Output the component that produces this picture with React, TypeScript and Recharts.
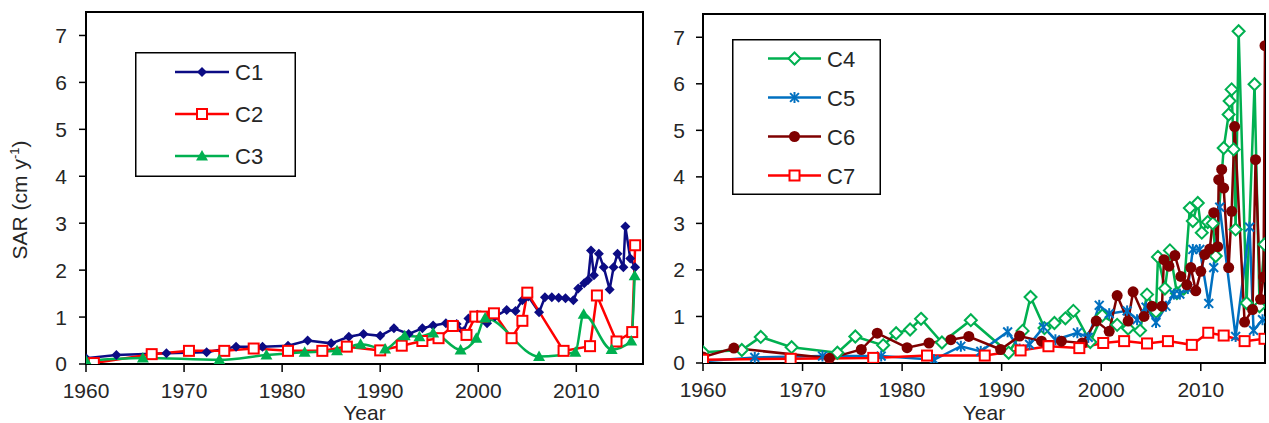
import React from 'react';
import { LineChart, Line, XAxis, YAxis, ReferenceArea } from 'recharts';

// axis ticks
const yearTicks = [1960, 1970, 1980, 1990, 2000, 2010];
const sarTicks = [0, 1, 2, 3, 4, 5, 6, 7];

// left panel
const c1Years = [1960, 1963.1, 1968.2, 1972.3, 1975.3, 1978, 1980.6, 1982.6, 1985, 1986.8, 1988.3, 1990, 1991.4, 1992.9, 1994.3, 1995.4, 1996.7, 1997.8, 1998.5, 1999, 1999.9, 2000.9, 2001.7, 2002.9, 2003.8, 2004.5, 2005.1, 2006.2, 2006.8, 2007.5, 2008.2, 2008.9, 2009.7, 2010.2, 2010.8, 2011.2, 2011.5, 2011.8, 2012.3, 2012.8, 2013.4, 2013.8, 2014.2, 2014.8, 2015, 2015.5, 2016];
const c1Values = [0.12, 0.19, 0.23, 0.25, 0.37, 0.37, 0.39, 0.5, 0.44, 0.58, 0.64, 0.6, 0.76, 0.64, 0.76, 0.82, 0.87, 0.85, 0.7, 0.97, 1.05, 0.87, 1.01, 1.15, 1.13, 1.36, 1.44, 1.1, 1.42, 1.42, 1.41, 1.4, 1.36, 1.61, 1.72, 1.79, 2.42, 1.89, 2.35, 2.06, 1.59, 2.06, 2.35, 2.06, 2.93, 2.25, 2.06];

const c2Years = [1960.8, 1966.7, 1970.5, 1974.1, 1977.1, 1980.6, 1984.1, 1986.6, 1990, 1992.2, 1994.3, 1995.95, 1997.4, 1998.8, 1999.7, 2000.4, 2001.6, 2003.4, 2004.5, 2005, 2008.7, 2011.4, 2012.1, 2014.1, 2015.7, 2016];
const c2Values = [0.02, 0.21, 0.28, 0.28, 0.33, 0.28, 0.28, 0.37, 0.29, 0.39, 0.49, 0.55, 0.81, 0.62, 1.01, 1.01, 1.08, 0.55, 0.92, 1.52, 0.28, 0.38, 1.46, 0.48, 0.68, 2.53];

const c3Years = [1960, 1965.8, 1973.6, 1978.4, 1982.3, 1985.6, 1988, 1990.5, 1992.5, 1994, 1995.4, 1998.2, 1999.8, 2000.7, 2006.2, 2009.9, 2010.75, 2013.6, 2015.6, 2015.95];
const c3Values = [0.07, 0.13, 0.09, 0.19, 0.25, 0.28, 0.42, 0.32, 0.6, 0.58, 0.66, 0.3, 0.55, 0.98, 0.16, 0.25, 1.06, 0.31, 0.49, 1.88];

// right panel
const c4Years = [1960, 1963.9, 1965.8, 1968.9, 1973.5, 1975.3, 1978.1, 1979.4, 1980.8, 1981.9, 1984, 1986.9, 1990.7, 1992.1, 1992.9, 1994.3, 1995.3, 1996.4, 1997.2, 1998.9, 2000.1, 2001.6, 2002.7, 2003.9, 2004.6, 2005.5, 2005.7, 2006.4, 2006.9, 2007.6, 2008.3, 2008.9, 2009.2, 2009.7, 2010.1, 2010.7, 2011.2, 2011.5, 2012.3, 2012.8, 2012.9, 2013.1, 2013.3, 2013.5, 2013.8, 2014.6, 2015.4, 2015.9, 2016.4];
const c4Values = [0.23, 0.28, 0.56, 0.34, 0.22, 0.57, 0.38, 0.64, 0.72, 0.95, 0.44, 0.92, 0.22, 0.69, 1.42, 0.75, 0.86, 0.96, 1.12, 0.45, 1.02, 0.82, 0.74, 0.7, 1.47, 1.1, 2.28, 1.6, 2.42, 1.5, 1.6, 3.33, 3.05, 3.44, 2.8, 3.03, 3.0, 2.3, 4.62, 5.34, 5.63, 5.88, 4.59, 2.87, 7.13, 1.29, 5.99, 1.22, 2.55];

const c5Years = [1960, 1965.2, 1972, 1977.9, 1983.2, 1985.9, 1987.9, 1990.6, 1991.8, 1992.8, 1994.2, 1995.4, 1997.6, 1998.7, 1999.8, 2000.8, 2002.6, 2003.6, 2004.5, 2005.5, 2006.5, 2007.3, 2007.9, 2008.7, 2009.2, 2009.9, 2010.8, 2011.3, 2011.9, 2013.5, 2014.9, 2015.3, 2016.2];
const c5Values = [0.04, 0.12, 0.15, 0.15, 0.07, 0.36, 0.25, 0.67, 0.3, 0.4, 0.77, 0.5, 0.65, 0.55, 1.24, 1.06, 1.12, 0.93, 1.2, 0.87, 1.22, 1.48, 1.48, 1.6, 2.44, 2.44, 1.28, 2.05, 3.35, 0.57, 2.92, 0.7, 0.93];

const c6Years = [1960, 1963.1, 1972.7, 1975.9, 1977.5, 1980.5, 1982.7, 1984.9, 1986.7, 1989.9, 1991.8, 1994, 1996, 1998.1, 1999.5, 2000.8, 2001.6, 2002.7, 2003.2, 2004.3, 2005.1, 2006.1, 2006.3, 2006.8, 2007.4, 2008, 2008.6, 2009, 2009.5, 2010, 2010.4, 2010.9, 2011.3, 2011.7, 2011.8, 2012.1, 2012.3, 2012.8, 2013.1, 2013.4, 2014.4, 2015.2, 2015.5, 2016, 2016.3, 2016.45];
const c6Values = [0.13, 0.32, 0.1, 0.29, 0.64, 0.33, 0.43, 0.5, 0.57, 0.29, 0.58, 0.47, 0.47, 0.43, 0.9, 0.68, 1.45, 0.9, 1.53, 1.0, 1.22, 1.22, 2.22, 2.08, 2.31, 1.86, 1.68, 2.05, 1.55, 1.97, 2.33, 2.45, 3.23, 2.5, 3.94, 4.16, 3.76, 2.05, 3.26, 5.08, 0.88, 1.15, 4.37, 1.37, 1.85, 6.82];

const c7Years = [1960, 1968.8, 1977.1, 1982.5, 1988.3, 1991.9, 1994.7, 1997.8, 2000.2, 2002.3, 2004.6, 2006.7, 2009.1, 2010.75, 2012.3, 2014.4, 2016.4];
const c7Values = [0.07, 0.09, 0.11, 0.16, 0.16, 0.27, 0.36, 0.32, 0.43, 0.47, 0.42, 0.47, 0.39, 0.65, 0.59, 0.47, 0.52];

type Shape = 'diamond' | 'square' | 'triangle' | 'openDiamond' | 'star' | 'circle';

type Series = {
  name: string;
  color: string;
  shape: Shape;
  curve: 'linear' | 'monotone';
  data: { year: number; sar: number }[];
};

const toPoints = (years: number[], values: number[]) =>
  years.map((year, i) => ({ year, sar: values[i] }));

const leftSeries: Series[] = [
  { name: 'C1', color: '#0c0c84', shape: 'diamond', curve: 'linear', data: toPoints(c1Years, c1Values) },
  { name: 'C2', color: '#ff0000', shape: 'square', curve: 'linear', data: toPoints(c2Years, c2Values) },
  { name: 'C3', color: '#00b050', shape: 'triangle', curve: 'monotone', data: toPoints(c3Years, c3Values) },
];

const rightSeries: Series[] = [
  { name: 'C4', color: '#00b050', shape: 'openDiamond', curve: 'linear', data: toPoints(c4Years, c4Values) },
  { name: 'C5', color: '#0070c0', shape: 'star', curve: 'linear', data: toPoints(c5Years, c5Values) },
  { name: 'C6', color: '#7f0000', shape: 'circle', curve: 'linear', data: toPoints(c6Years, c6Values) },
  { name: 'C7', color: '#ff0000', shape: 'square', curve: 'linear', data: toPoints(c7Years, c7Values) },
];

const FONT = '"Liberation Sans", Arial, sans-serif';
const TEXT = '#262626';

function Marker({ shape, color, cx, cy }: { shape: Shape; color: string; cx?: number; cy?: number }) {
  if (cx == null || cy == null) return <g />;
  switch (shape) {
    case 'diamond': {
      const r = 5;
      return <polygon points={`${cx},${cy - r} ${cx + r},${cy} ${cx},${cy + r} ${cx - r},${cy}`} fill={color} />;
    }
    case 'openDiamond': {
      const r = 6;
      return (
        <polygon
          points={`${cx},${cy - r} ${cx + r},${cy} ${cx},${cy + r} ${cx - r},${cy}`}
          fill="#fff"
          stroke={color}
          strokeWidth={2}
        />
      );
    }
    case 'square':
      return <rect x={cx - 5} y={cy - 5} width={10} height={10} fill="#fff" stroke={color} strokeWidth={2} />;
    case 'triangle':
      return <polygon points={`${cx},${cy - 6} ${cx + 6},${cy + 4.5} ${cx - 6},${cy + 4.5}`} fill={color} />;
    case 'star': {
      const r = 5.5;
      const d = r * 0.8;
      return (
        <g stroke={color} strokeWidth={2}>
          <line x1={cx} y1={cy - r} x2={cx} y2={cy + r} />
          <line x1={cx - d} y1={cy - d} x2={cx + d} y2={cy + d} />
          <line x1={cx - d} y1={cy + d} x2={cx + d} y2={cy - d} />
        </g>
      );
    }
    default:
      return <circle cx={cx} cy={cy} r={5.5} fill={color} />;
  }
}

type LegendGeom = { left: number; top: number; width: number; height: number; rowTop: number; rowGap: number; lineX0: number; lineX1: number; textX: number };

function LegendBox({ series, g }: { series: Series[]; g: LegendGeom }) {
  return (
    <svg style={{ position: 'absolute', left: g.left, top: g.top }} width={g.width} height={g.height}>
      <rect x={0.75} y={0.75} width={g.width - 1.5} height={g.height - 1.5} fill="#fff" stroke="#000" strokeWidth={1.5} />
      {series.map((s, i) => {
        const y = g.rowTop + i * g.rowGap;
        const mid = (g.lineX0 + g.lineX1) / 2;
        return (
          <g key={s.name}>
            <line x1={g.lineX0} y1={y} x2={g.lineX1} y2={y} stroke={s.color} strokeWidth={2.5} />
            <Marker shape={s.shape} color={s.color} cx={mid} cy={y} />
            <text x={g.textX} y={y + 8} fontSize={22} fontFamily={FONT} fill={TEXT}>
              {s.name}
            </text>
          </g>
        );
      })}
    </svg>
  );
}

type PanelProps = {
  left: number;
  width: number;
  marginTop: number;
  marginRight: number;
  yAxisWidth: number;
  xAxisHeight: number;
  yTickMargin: number;
  xMax: number;
  series: Series[];
  legend: LegendGeom;
  showYLabel: boolean;
};

function Panel(p: PanelProps) {
  const tick = { fontSize: 21, fill: TEXT, fontFamily: FONT };
  return (
    <div style={{ position: 'absolute', left: p.left, top: 0, width: p.width, height: 423 }}>
      <LineChart width={p.width} height={423} margin={{ top: p.marginTop, right: p.marginRight, bottom: 0, left: 0 }}>
        <XAxis
          type="number"
          dataKey="year"
          domain={[1960, p.xMax]}
          ticks={yearTicks}
          allowDataOverflow
          height={p.xAxisHeight}
          tick={tick}
          tickSize={8}
          tickMargin={11}
          axisLine={{ stroke: '#000', strokeWidth: 2 }}
          tickLine={{ stroke: '#000', strokeWidth: 1.5 }}
          label={{
            content: (lp: any) => (
              <text
                x={lp.viewBox.x + lp.viewBox.width / 2}
                y={420}
                textAnchor="middle"
                fontSize={21}
                fontFamily={FONT}
                fill={TEXT}
              >
                Year
              </text>
            ),
          }}
        />
        <YAxis
          type="number"
          domain={[0, 7.5]}
          ticks={sarTicks}
          allowDataOverflow
          width={p.yAxisWidth}
          tick={tick}
          tickSize={7}
          tickMargin={p.yTickMargin}
          axisLine={{ stroke: '#000', strokeWidth: 2 }}
          tickLine={{ stroke: '#000', strokeWidth: 1.5 }}
          label={
            p.showYLabel
              ? {
                  content: (lp: any) => {
                    const cy = lp.viewBox.y + lp.viewBox.height / 2 + 12;
                    return (
                      <text
                        x={27}
                        y={cy}
                        transform={`rotate(-90, 27, ${cy})`}
                        textAnchor="middle"
                        fontSize={21}
                        fontFamily={FONT}
                        fill={TEXT}
                      >
                        SAR (cm y
                        <tspan dy={-8} fontSize={13}>-1</tspan>
                        <tspan dy={8}>)</tspan>
                      </text>
                    );
                  },
                }
              : undefined
          }
        />
        <ReferenceArea x1={1960} x2={p.xMax} y1={0} y2={7.5} fill="none" stroke="#000" strokeWidth={2} ifOverflow="visible" />
        {p.series.map((s) => (
          <Line
            key={s.name}
            data={s.data}
            dataKey="sar"
            name={s.name}
            type={s.curve}
            stroke={s.color}
            strokeWidth={2.5}
            dot={(dp: any) => (
              <Marker key={`${s.name}-${dp.index}`} shape={s.shape} color={s.color} cx={dp.cx} cy={dp.cy} />
            )}
            activeDot={false}
            isAnimationActive={false}
          />
        ))}
      </LineChart>
      <LegendBox series={p.series} g={p.legend} />
    </div>
  );
}

export default function App() {
  return (
    <div style={{ position: 'absolute', left: 0, top: 0, width: 1269, height: 423, background: '#fff' }}>
      <Panel
        left={0}
        width={660}
        marginTop={12}
        marginRight={17}
        yAxisWidth={86}
        xAxisHeight={59}
        yTickMargin={12}
        xMax={2016.8}
        series={leftSeries}
        showYLabel
        legend={{ left: 135, top: 52, width: 161, height: 125, rowTop: 20, rowGap: 42, lineX0: 40, lineX1: 94, textX: 100 }}
      />
      <Panel
        left={660}
        width={609}
        marginTop={14}
        marginRight={4}
        yAxisWidth={43}
        xAxisHeight={60}
        yTickMargin={11}
        xMax={2016.45}
        series={rightSeries}
        showYLabel={false}
        legend={{ left: 72, top: 39, width: 149, height: 156, rowTop: 19.5, rowGap: 39, lineX0: 36, lineX1: 89, textX: 95 }}
      />
    </div>
  );
}
